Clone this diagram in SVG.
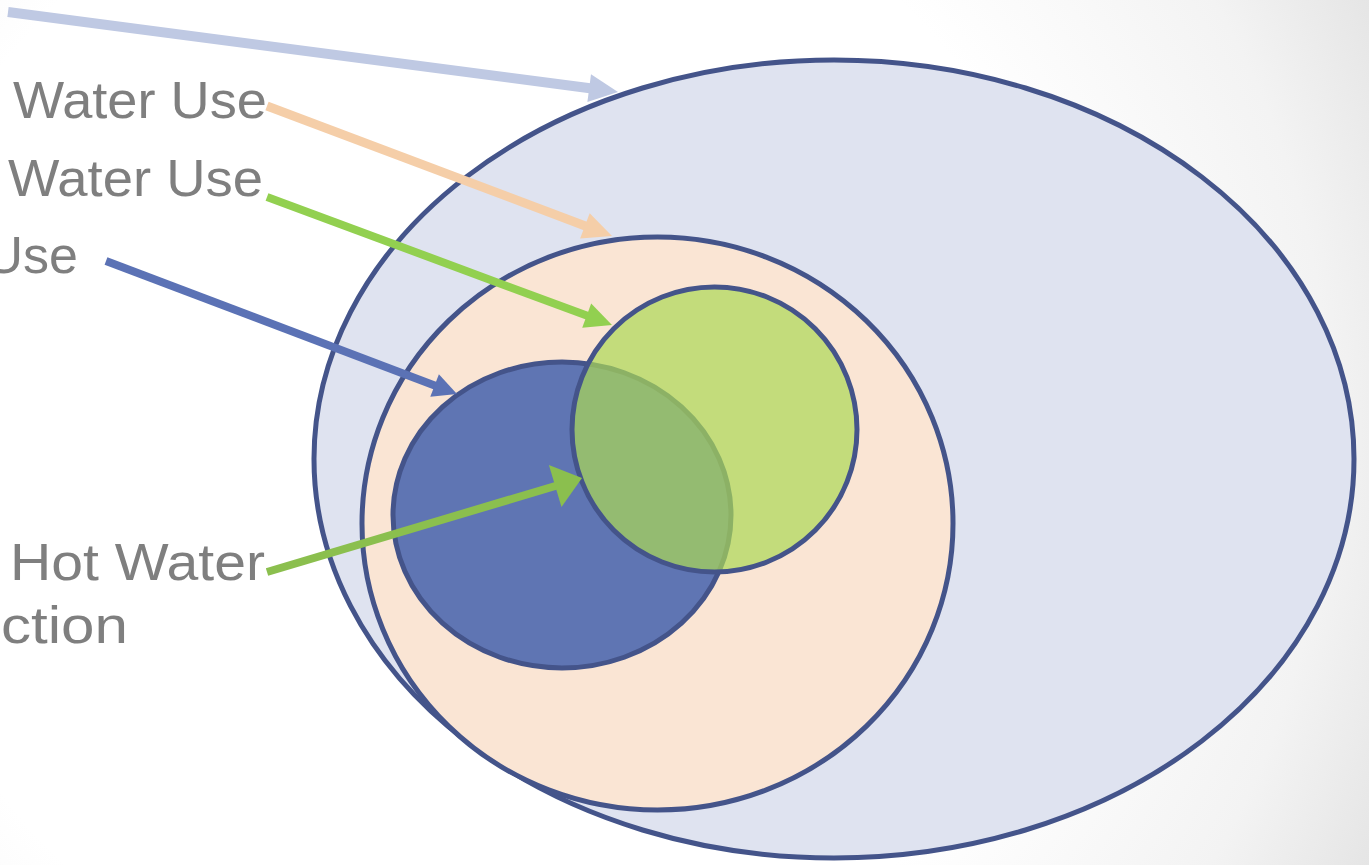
<svg xmlns="http://www.w3.org/2000/svg" width="1369" height="865" viewBox="0 0 1369 865">
  <defs>
    <radialGradient id="bg" gradientUnits="userSpaceOnUse" cx="480" cy="430" r="1000">
      <stop offset="0.6" stop-color="#ffffff"/>
      <stop offset="0.85" stop-color="#f3f3f3"/>
      <stop offset="1" stop-color="#e4e4e4"/>
    </radialGradient>
  </defs>
  <style>
    .shape { stroke: #44548a; stroke-width: 5; }
    .lbl { font-family: "Liberation Sans", Arial, sans-serif; font-size: 52px; fill: #7f7f7f; }
  </style>
  <rect x="0" y="0" width="1369" height="865" fill="url(#bg)"/>

  <g id="total">
    <ellipse class="shape" cx="834" cy="459" rx="520" ry="399" fill="#dfe3f0"/>
  </g>
  <g id="indoor">
    <ellipse class="shape" cx="657.5" cy="523.5" rx="295.5" ry="286.5" fill="#fae5d4"/>
  </g>
  <g id="hotwater">
    <ellipse class="shape" cx="562" cy="515" rx="169" ry="153" fill="#5f75b3"/>
  </g>
  <g id="other">
    <circle cx="714.5" cy="429.5" r="142.5" fill="#abd856" fill-opacity="0.7" stroke="#44548a" stroke-width="5"/>
  </g>

  <g id="labels">
    <text class="lbl" x="13" y="118" textLength="254" lengthAdjust="spacingAndGlyphs">Water Use</text>
    <text class="lbl" x="8" y="196" textLength="255" lengthAdjust="spacingAndGlyphs">Water Use</text>
    <text class="lbl" x="78" y="273" text-anchor="end">Use</text>
    <text class="lbl" x="10" y="580" textLength="255" lengthAdjust="spacingAndGlyphs">Hot Water</text>
    <text class="lbl" x="1" y="643" textLength="127" lengthAdjust="spacingAndGlyphs">ction</text>
  </g>

  <g id="connectors">
    <line x1="8" y1="12" x2="590" y2="88.3" stroke="#bfc9e3" stroke-width="10"/>
    <polygon points="618,92 587.4,102.1 591,74.3" fill="#bfc9e3"/>

    <line x1="267" y1="106" x2="586" y2="226.2" stroke="#f5cea8" stroke-width="9"/>
    <polygon points="612,236 580.1,238.4 589.7,213.2" fill="#f5cea8"/>

    <line x1="267" y1="197" x2="588" y2="316.1" stroke="#92d050" stroke-width="8"/>
    <polygon points="612,325 582.2,327.8 591.2,303.4" fill="#92d050"/>

    <line x1="106" y1="261" x2="436" y2="386" stroke="#5b72b5" stroke-width="8"/>
    <polygon points="457,394 430.3,396.7 438.9,374.3" fill="#5b72b5"/>

    <line x1="267" y1="572" x2="557" y2="485.5" stroke="#8bbf4e" stroke-width="8"/>
    <polygon points="582,478 548.9,464.9 561.5,507.1" fill="#8bbf4e"/>
  </g>
</svg>
